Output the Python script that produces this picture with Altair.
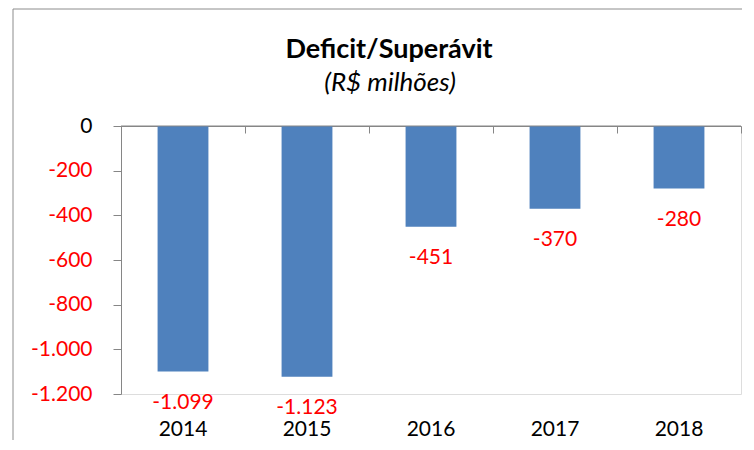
import altair as alt
import pandas as pd

years = ["2014", "2015", "2016", "2017", "2018"]
values = [-1099, -1123, -451, -370, -280]
y_ticks = [0, -200, -400, -600, -800, -1000, -1200]
boundaries = [0, 1, 2, 3, 4, 5]
title_text = "Deficit/Superávit"
subtitle_text = "(R$ milhões)"

df = pd.DataFrame({"ano": years, "valor": values})
fmt = "(datum.value < 0 ? '-' : '') + replace(format(abs(datum.value), ','), ',', '.')"

FONT = "Lato"
AX = "#868686"

x_band = alt.X(
    "ano:N",
    sort=years,
    scale=alt.Scale(paddingInner=0.59, paddingOuter=0.295),
    axis=alt.Axis(orient="bottom", domain=False, ticks=False, labelAngle=0,
                  labelFont=FONT, labelFontSize=21, labelColor="black",
                  labelBaseline="alphabetic", labelPadding=41, title=None),
)
y_q = alt.Y(
    "valor:Q",
    scale=alt.Scale(domain=[-1200, 0], nice=False, zero=False),
    axis=alt.Axis(values=y_ticks, labelExpr=fmt, title=None, grid=False,
                  labelFont=FONT, labelFontSize=21,
                  labelColor={"condition": {"test": "datum.value == 0", "value": "black"}, "value": "red"},
                  labelPadding=21, tickSize=8, tickColor=AX, domainColor=AX),
)

bars = alt.Chart(df).mark_bar(color="#4F81BD").encode(x=x_band, y=y_q)
labels = alt.Chart(df).mark_text(color="red", font=FONT, fontSize=21, baseline="alphabetic", dy=37.5).encode(
    x=alt.X("ano:N", sort=years), y=alt.Y("valor:Q"), text=alt.Text("lbl:N")
).transform_calculate(lbl="(datum.valor < 0 ? '-' : '') + replace(format(abs(datum.valor), ','), ',', '.')")

main = alt.layer(bars, labels)

zero = alt.Chart(pd.DataFrame({"p": [0]})).mark_rule(color=AX).encode(
    x=alt.X("p:Q", scale=alt.Scale(domain=[0, 5], nice=False),
            axis=alt.Axis(orient="bottom", offset=-268, values=boundaries, labels=False,
                          ticks=True, tickSize=7, tickColor=AX, domain=True, domainColor=AX,
                          grid=False, title=None)),
    x2=alt.datum(5),
    y=alt.datum(0),
)

deco = pd.DataFrame({"t": [title_text], "s": [subtitle_text]})
border = alt.Chart(deco).mark_rect(fill=None, stroke="#8c8c8c", strokeWidth=1).encode(
    x=alt.value(-108), x2=alt.value(800), y=alt.value(-117), y2=alt.value(500)
)
title = alt.Chart(deco).mark_text(font=FONT, fontSize=27, fontWeight="bold", color="black",
                                  align="center", baseline="alphabetic").encode(
    x=alt.value(268), y=alt.value(-68.5), text="t:N"
)
subtitle = alt.Chart(deco).mark_text(font=FONT, fontSize=26, fontStyle="italic", color="black",
                                     align="center", baseline="alphabetic").encode(
    x=alt.value(269), y=alt.value(-35.3), text="s:N"
)

chart = alt.layer(border, title, subtitle, main, zero).resolve_scale(x="independent").resolve_axis(x="independent").properties(
    width=620, height=268,
    autosize=alt.AutoSizeParams(type="none"),
    padding={"left": 113, "top": 118, "right": 1, "bottom": 46},
).configure_view(stroke=None).configure(background="white")

chart.save("out.html", embed_options={"renderer": "svg", "actions": False})
